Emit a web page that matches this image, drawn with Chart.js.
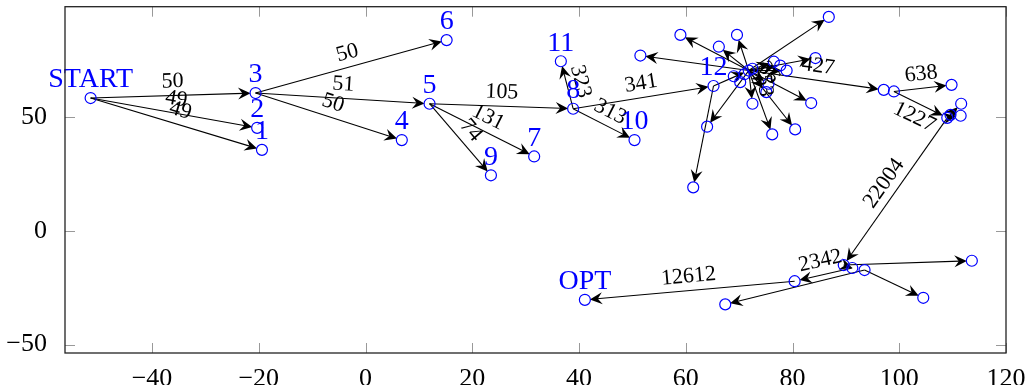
<!DOCTYPE html>
<html>
<head>
<meta charset="utf-8">
<script src="https://cdn.jsdelivr.net/npm/chart.js@4"></script>
<style>
  html, body { margin: 0; padding: 0; background: #fff; }
  #c { display: block; }
</style>
</head>
<body>
<canvas id="c" width="1026" height="385"></canvas>
<script>
// ---- data ----
const nodeX = [-51.5, -19.4, -20.3, -20.6, 6.8, 12.0, 15.2, 31.6, 38.9, 23.5, 50.4, 36.6, 65.2,
  71.8, 51.5, 59.0, 66.2, 69.6, 86.8, 84.3, 76.5, 77.7, 78.9, 69.0, 70.2, 75.5, 75.1, 72.5, 76.2, 80.5, 83.5,
  64.0, 61.4, 97.1, 99.0, 109.8, 109.0, 109.6, 111.5, 111.6,
  89.6, 91.2, 93.5, 113.6, 104.5, 80.4, 67.4, 41.1, 72.5, 71.0];
const nodeY = [58.5, 35.7, 45.4, 60.7, 40.0, 56.0, 84.0, 32.8, 53.8, 24.5, 40.0, 74.7, 63.8,
  70.6, 77.2, 86.3, 81.1, 86.3, 94.2, 76.1, 74.5, 72.8, 70.6, 68.1, 65.5, 64.8, 61.1, 56.0, 42.5, 44.7, 56.3,
  45.9, 19.2, 62.1, 61.4, 64.3, 49.8, 51.1, 50.7, 56.0,
  -15.0, -16.3, -17.2, -13.1, -29.4, -22.1, -32.3, -30.3, 71.4, 69.0];
const nodeLabels = ["START", "1", "2", "3", "4", "5", "6", "7", "8", "9", "10", "11", "12"];
nodeLabels[47] = "OPT";

const edgeFrom   = [0, 0, 0, 3, 3, 3, 5, 5, 5, 8, 8, 8, 12, 12, 13, 13, 13, 13, 13, 13, 13, 13, 13, 13, 13, 13, 13, 13, 13, 13, 13, 34, 34, 36, 36, 36, 40, 41, 45, 42, 40, 42];
const edgeTo     = [3, 2, 1, 6, 5, 4, 8, 7, 9, 11, 10, 12, 13, 32, 31, 14, 15, 16, 17, 18, 19, 20, 21, 22, 25, 26, 27, 28, 29, 30, 33, 35, 36, 38, 39, 40, 41, 45, 47, 46, 43, 44];
const edgeLabels = ["50", "49", "49", "50", "51", "50", "105", "131", "74", "323", "313", "341", "", "", "", "", "", "", "", "", "", "", "", "", "", "36", "53", "", "", "", "427", "638", "1227", "", "", "22004", "", "2342", "12612", "", "", ""];

const xTickValues = [-40, -20, 0, 20, 40, 60, 80, 100, 120];
const yTickValues = [-50, 0, 50];
const xRange = [-56.3, 120];
const yRange = [-53.7, 98.7];

// ---- rendering ----
const SERIF = "'Liberation Serif', 'DejaVu Serif', serif";
const fmt = v => (v < 0 ? '\u2212' + Math.abs(v) : String(v));

function arrowHead(ctx, x, y, ang) {
  ctx.save();
  ctx.translate(x, y);
  ctx.rotate(ang);
  ctx.beginPath();
  ctx.moveTo(0, 0);
  ctx.lineTo(-12.5, -6);
  ctx.lineTo(-8, 0);
  ctx.lineTo(-12.5, 6);
  ctx.closePath();
  ctx.fill();
  ctx.restore();
}

const graphPlugin = {
  id: 'graph',
  beforeDatasetsDraw(chart) {
    const { ctx, scales: { x, y } } = chart;
    ctx.save();
    ctx.strokeStyle = '#000';
    ctx.fillStyle = '#000';
    ctx.lineWidth = 1.1;
    for (let i = 0; i < edgeFrom.length; i++) {
      const a = edgeFrom[i], b = edgeTo[i];
      const x1 = x.getPixelForValue(nodeX[a]), y1 = y.getPixelForValue(nodeY[a]);
      const x2 = x.getPixelForValue(nodeX[b]), y2 = y.getPixelForValue(nodeY[b]);
      const dx = x2 - x1, dy = y2 - y1, len = Math.hypot(dx, dy);
      if (len < 1) continue;
      const ux = dx / len, uy = dy / len;
      const r = len > 12 ? 5 : 0;
      const tx = x2 - ux * r, ty = y2 - uy * r;
      ctx.beginPath();
      ctx.moveTo(x1, y1);
      ctx.lineTo(tx - ux * 7, ty - uy * 7);
      ctx.stroke();
      arrowHead(ctx, tx, ty, Math.atan2(dy, dx));
    }
    ctx.restore();
  },
  afterDatasetsDraw(chart, args, opts) {
    const { ctx, scales: { x, y } } = chart;
    const below = opts.labelsBelow || [];
    ctx.save();
    // edge labels
    ctx.fillStyle = '#000';
    ctx.font = '22px ' + SERIF;
    ctx.textAlign = 'center';
    ctx.textBaseline = 'middle';
    for (let i = 0; i < edgeFrom.length; i++) {
      const lab = edgeLabels[i];
      if (!lab) continue;
      const a = edgeFrom[i], b = edgeTo[i];
      const x1 = x.getPixelForValue(nodeX[a]), y1 = y.getPixelForValue(nodeY[a]);
      const x2 = x.getPixelForValue(nodeX[b]), y2 = y.getPixelForValue(nodeY[b]);
      let th = Math.atan2(y2 - y1, x2 - x1);
      if (th > Math.PI / 2) th -= Math.PI;
      if (th < -Math.PI / 2) th += Math.PI;
      const side = below.includes(lab) ? -1 : 1;
      const mx = (x1 + x2) / 2 + Math.sin(th) * 14 * side;
      const my = (y1 + y2) / 2 - Math.cos(th) * 14 * side;
      ctx.save();
      ctx.translate(mx, my);
      ctx.rotate(th);
      ctx.fillText(lab, 0, 0);
      ctx.restore();
    }
    // node labels
    ctx.fillStyle = '#0000ff';
    ctx.font = '28px ' + SERIF;
    for (let i = 0; i < nodeLabels.length; i++) {
      const lab = nodeLabels[i];
      if (!lab) continue;
      ctx.fillText(lab, x.getPixelForValue(nodeX[i]), y.getPixelForValue(nodeY[i]) - 18);
    }
    ctx.restore();
  },
  afterDraw(chart) {
    const { ctx, chartArea: ca, scales: { x, y } } = chart;
    ctx.save();
    ctx.strokeStyle = '#999';
    ctx.lineWidth = 1;
    ctx.beginPath();
    x.ticks.forEach(t => {
      const px = Math.round(x.getPixelForValue(t.value)) + 0.5;
      ctx.moveTo(px, ca.bottom); ctx.lineTo(px, ca.bottom - 10);
      ctx.moveTo(px, ca.top); ctx.lineTo(px, ca.top + 10);
    });
    y.ticks.forEach(t => {
      const py = Math.round(y.getPixelForValue(t.value)) + 0.5;
      ctx.moveTo(ca.left, py); ctx.lineTo(ca.left + 10, py);
      ctx.moveTo(ca.right, py); ctx.lineTo(ca.right - 10, py);
    });
    ctx.stroke();
    ctx.strokeStyle = '#222';
    ctx.lineWidth = 1.3;
    ctx.strokeRect(ca.left, ca.top, ca.right - ca.left, ca.bottom - ca.top);
    ctx.restore();
  }
};

const points = nodeX.map((v, i) => ({ x: v, y: nodeY[i] }));

new Chart(document.getElementById('c'), {
  type: 'scatter',
  data: {
    datasets: [{
      data: points,
      pointStyle: 'circle',
      pointRadius: 5.5,
      pointHoverRadius: 5.5,
      borderWidth: 1.2,
      borderColor: '#0000ff',
      backgroundColor: 'rgba(0,0,0,0)'
    }]
  },
  options: {
    responsive: false,
    animation: false,
    devicePixelRatio: 1,
    layout: { padding: { top: 4, right: 20, left: 0, bottom: 0 } },
    plugins: {
      legend: { display: false },
      tooltip: { enabled: false },
      graph: { labelsBelow: ['1227'] }
    },
    scales: {
      x: {
        type: 'linear',
        min: xRange[0], max: xRange[1],
        grid: { display: false },
        border: { display: false },
        afterBuildTicks: s => { s.ticks = xTickValues.map(v => ({ value: v })); },
        afterFit: s => { s.height = 32; s.paddingLeft = 0; s.paddingRight = 0; },
        ticks: {
          color: '#000',
          font: { family: SERIF, size: 26 },
          padding: 3,
          maxRotation: 0,
          autoSkip: false,
          callback: v => fmt(v)
        }
      },
      y: {
        type: 'linear',
        min: yRange[0], max: yRange[1],
        grid: { display: false },
        border: { display: false },
        afterBuildTicks: s => { s.ticks = yTickValues.map(v => ({ value: v })); },
        afterFit: s => { s.width = 65; s.paddingTop = 0; s.paddingBottom = 0; },
        ticks: {
          color: '#000',
          font: { family: SERIF, size: 26 },
          padding: 10,
          autoSkip: false,
          callback: v => fmt(v)
        }
      }
    }
  },
  plugins: [graphPlugin]
});
</script>
</body>
</html>
